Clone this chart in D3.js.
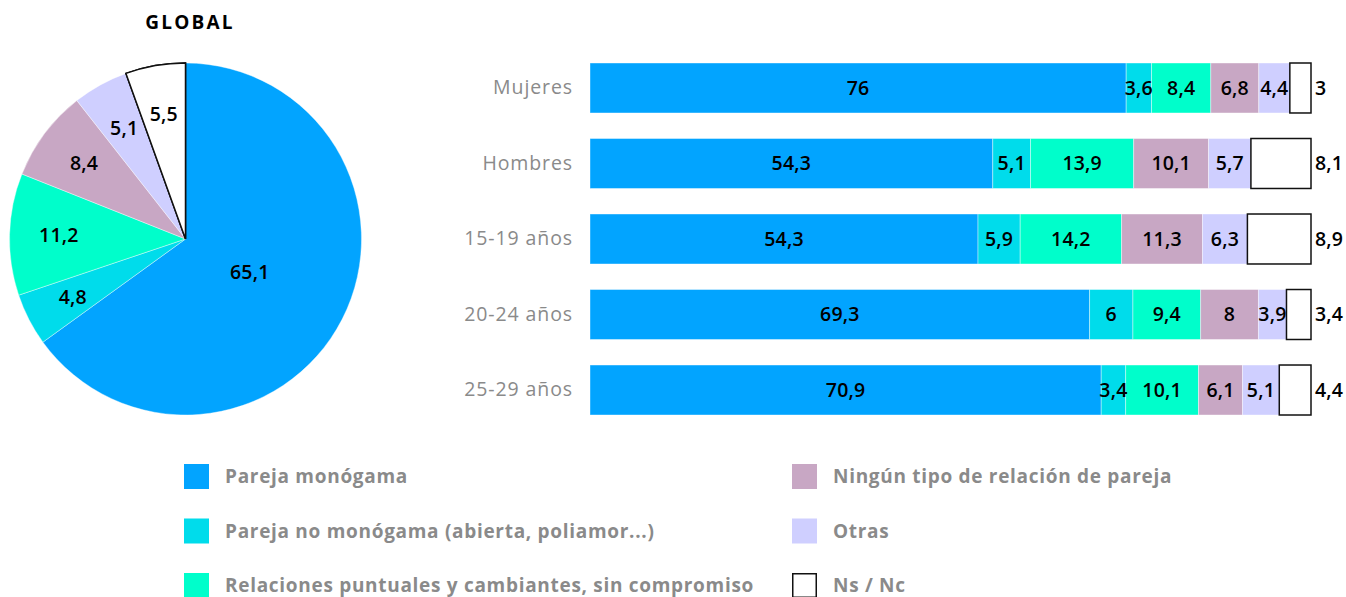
<!DOCTYPE html>
<html><head><meta charset="utf-8">
<script src="https://cdn.jsdelivr.net/npm/d3@7"></script>
<style>
body{margin:0;background:#fff;}
svg{display:block;font-family:"Open Sans",sans-serif;}
</style></head>
<body>
<svg id="c" width="1346" height="597"></svg>
<script>
const seriesNames = ["Pareja monógama","Pareja no monógama (abierta, poliamor...)","Relaciones puntuales y cambiantes, sin compromiso","Ningún tipo de relación de pareja","Otras","Ns / Nc"];
const seriesColors = ["#02a4ff","#00dceb","#00fecb","#c8a7c4","#cfcfff","#ffffff"];
const globalValues = [65.1,4.8,11.2,8.4,5.1,5.5];
const categories = ["Mujeres","Hombres","15-19 años","20-24 años","25-29 años"];
const monogama   = [76,54.3,54.3,69.3,70.9];
const noMonogama = [3.6,5.1,5.9,6,3.4];
const puntuales  = [8.4,13.9,14.2,9.4,10.1];
const ninguna    = [6.8,10.1,11.3,8,6.1];
const otras      = [4.4,5.7,6.3,3.9,5.1];
const nsnc       = [3,8.1,8.9,3.4,4.4];

const fmt = v => String(v).replace(".", ",");
const svg = d3.select("#c");
const valueFont = {size:19.5, weight:600, ls:0.2};

// ---- Pie ----
const cx = 185.5, cy = 239, R = 176;
svg.append("text").attr("x",190).attr("y",29).attr("text-anchor","middle")
  .attr("font-size",19).attr("font-weight",700).attr("fill","#000").attr("letter-spacing",2.2).text("GLOBAL");
const pie = d3.pie().sort(null).value(d=>d.v);
const pieData = pie(globalValues.map((v,i)=>({v,i})));
const arc = d3.arc().innerRadius(0).outerRadius(R);
const g = svg.append("g").attr("transform",`translate(${cx},${cy})`);
g.selectAll("path").data(pieData).join("path")
  .attr("d",arc)
  .attr("fill",d=>seriesColors[d.data.i])
  .attr("stroke",d=>d.data.i===5?"#000":"rgba(255,255,255,0.5)")
  .attr("stroke-width",d=>d.data.i===5?1.5:0.8);
g.append("path").datum(pieData[5]).attr("d",arc).attr("fill","#fff").attr("stroke","#111").attr("stroke-width",1.5);
g.selectAll("text").data(pieData).join("text")
  .attr("transform",d=>{
    const frac = (d.endAngle-d.startAngle)/(2*Math.PI);
    const r = frac>0.3 ? 0.41*R : 0.72*R;
    const a = (d.startAngle+d.endAngle)/2;
    return `translate(${r*Math.sin(a)},${-r*Math.cos(a)})`;
  })
  .attr("text-anchor","middle").attr("dy","0.35em")
  .attr("font-size",valueFont.size).attr("font-weight",valueFont.weight).attr("letter-spacing",valueFont.ls).attr("fill","#000")
  .text(d=>fmt(d.data.v));

// ---- Bars ----
const series = [monogama,noMonogama,puntuales,ninguna,otras,nsnc];
const rows = categories.map((c,ri)=>{
  const vals = series.map(s=>s[ri]);
  const tot = d3.sum(vals);
  let acc = 0;
  const segs = vals.map((v,si)=>{const s={v,si,x0:acc/tot,x1:(acc+v)/tot}; acc+=v; return s;});
  return {c,segs};
});
const x = d3.scaleLinear().domain([0,1]).range([590,1311]);
const y = d3.scaleBand().domain(categories).range([63,415]).paddingInner(0.338).paddingOuter(0);

const yAxis = d3.axisLeft(y).tickSize(0).tickPadding(17);
const ag = svg.append("g").attr("transform",`translate(${x(0)},0)`).call(yAxis);
ag.select(".domain").remove();
ag.selectAll("text").attr("font-size",19.5).attr("font-weight",500).attr("letter-spacing",0.9).attr("fill","#8a8a8a").attr("font-family","'Open Sans',sans-serif");

const rg = svg.selectAll("g.row").data(rows).join("g").attr("class","row")
  .attr("transform",d=>`translate(0,${y(d.c)})`);
rg.selectAll("rect").data(d=>d.segs).join("rect")
  .attr("x",d=>x(d.x0)).attr("width",d=>x(d.x1)-x(d.x0))
  .attr("y",0).attr("height",y.bandwidth())
  .attr("fill",d=>seriesColors[d.si])
  .attr("stroke",d=>d.si===5?"#111":"rgba(255,255,255,0.5)")
  .attr("stroke-width",d=>d.si===5?1.5:0.8);
rg.selectAll("text").data(d=>d.segs).join("text")
  .attr("x",d=>d.si===5? x(d.x1)+4 : (x(d.x0)+x(d.x1))/2)
  .attr("text-anchor",d=>d.si===5?"start":"middle")
  .attr("y",y.bandwidth()/2).attr("dy","0.35em")
  .attr("font-size",valueFont.size).attr("font-weight",valueFont.weight).attr("letter-spacing",valueFont.ls).attr("fill","#000")
  .text(d=>fmt(d.v));

// ---- Legend ----
const lg = svg.append("g");
const items = lg.selectAll("g").data(seriesNames.map((n,i)=>({n,i}))).join("g")
  .attr("transform",d=>`translate(${d.i<3?184:792},${464+(d.i%3)*54.5})`);
items.append("rect")
  .attr("x",d=>d.i===5?0.75:0).attr("y",d=>d.i===5?0.75:0)
  .attr("width",d=>d.i===5?23.5:25).attr("height",d=>d.i===5?23.5:25)
  .attr("fill",d=>seriesColors[d.i])
  .attr("stroke",d=>d.i===5?"#111":"none").attr("stroke-width",1.5);
items.append("text").attr("x",41).attr("y",12.5).attr("dy","0.35em")
  .attr("font-size",19).attr("font-weight",700).attr("letter-spacing",0.7).attr("fill","#8a8a8a")
  .text(d=>d.n);
</script>
</body></html>
